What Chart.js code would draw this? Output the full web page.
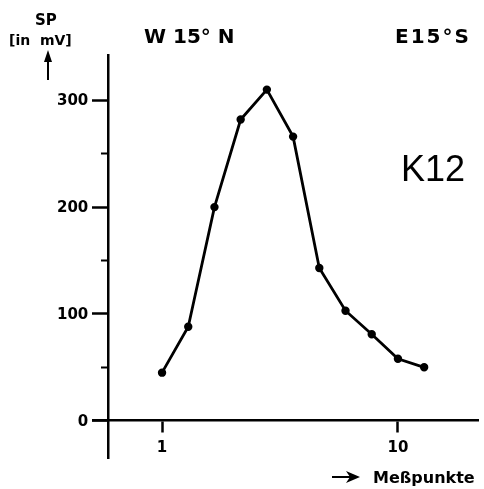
<!DOCTYPE html>
<html>
<head>
<meta charset="utf-8">
<script src="https://cdn.jsdelivr.net/npm/chart.js@4/dist/chart.umd.min.js"></script>
<style>
  html, body { margin: 0; padding: 0; background: #fff; }
  canvas { display: block; }
</style>
</head>
<body>
<canvas id="spChart" width="484" height="489"></canvas>
<script>
// Messpunkte (x) and SP values in mV (y)
var measurePoints = [1, 2, 3, 4, 5, 6, 7, 8, 9, 10, 11]
var spValues = [45, 88, 200, 282, 310, 266, 143, 103, 81, 58, 50]
var xTickValues = [1, 10]
var yMajorTicks = [0, 100, 200, 300]
var yMinorTicks = [50, 150, 250]

var FONT = 'DejaVu Sans'
var Y_AXIS_AT = -1.05

// free-standing labels of the figure (axis titles, orientation, profile name)
var figureLabels = function(chart) {
  var ctx = chart.ctx
  var xs = chart.scales.x
  var ys = chart.scales.y
  ctx.save()
  ctx.fillStyle = '#000'
  ctx.strokeStyle = '#000'

  // y tick labels, placed left of the long tick marks
  ctx.font = 'bold 15px "' + FONT + '"'
  ctx.textAlign = 'right'
  ctx.textBaseline = 'middle'
  var axisX = xs.getPixelForValue(Y_AXIS_AT)
  yMajorTicks.forEach(function(v) {
    ctx.fillText(String(v), axisX - 20, ys.getPixelForValue(v) + 1)
  })

  ctx.textBaseline = 'alphabetic'
  ctx.textAlign = 'left'
  ctx.font = 'bold 15px "' + FONT + '"'
  ctx.fillText('SP', 35, 25)
  ctx.font = 'bold 14px "' + FONT + '"'
  ctx.fillText('[in  mV]', 9, 45)

  // arrow up under the unit
  ctx.lineWidth = 2
  ctx.beginPath()
  ctx.moveTo(48, 80); ctx.lineTo(48, 56)
  ctx.stroke()
  ctx.beginPath()
  ctx.moveTo(48, 50); ctx.lineTo(44, 62); ctx.lineTo(52, 62); ctx.closePath()
  ctx.fill()

  ctx.font = 'bold 20px "' + FONT + '"'
  ctx.fillText('W 15° N', 144, 43)
  ctx.letterSpacing = '2px'
  ctx.fillText('E15°S', 395, 43)
  ctx.letterSpacing = '0px'

  ctx.font = '36px "Liberation Sans"'
  ctx.fillText('K12', 401, 181)

  // arrow before the x-axis title
  ctx.lineWidth = 2
  ctx.beginPath()
  ctx.moveTo(332, 477); ctx.lineTo(352, 477)
  ctx.stroke()
  ctx.beginPath()
  ctx.moveTo(360, 477); ctx.lineTo(346, 471); ctx.lineTo(350, 477); ctx.lineTo(346, 483); ctx.closePath()
  ctx.fill()

  ctx.font = 'bold 16px "' + FONT + '"'
  ctx.fillText('Meßpunkte', 373, 483)
  ctx.restore()
}

var chartConfig = {
  type: 'line',
  data: {
    datasets: [{
      data: measurePoints.map(function(x, i) { return {x: x, y: spValues[i]} }),
      borderColor: '#000',
      backgroundColor: '#000',
      borderWidth: 2.8,
      pointRadius: 2.8,
      pointHoverRadius: 2.8,
      tension: 0,
      fill: false
    }]
  },
  options: {
    responsive: false,
    animation: false,
    events: [],
    layout: { padding: { left: 93, right: 3, top: 55, bottom: 31 } },
    plugins: {
      legend: { display: false },
      tooltip: { enabled: false }
    },
    scales: {
      x: {
        type: 'linear',
        position: { y: 0 },
        min: -1.634,
        max: 13.07,
        afterBuildTicks: function(scale) {
          scale.ticks = xTickValues.map(function(v) { return {value: v} })
        },
        border: { display: true, color: '#000', width: 2.5 },
        grid: { drawOnChartArea: false, drawTicks: true, tickLength: 11, tickWidth: 2.5, tickColor: '#000' },
        ticks: {
          color: '#000',
          padding: 7,
          maxRotation: 0,
          font: { family: FONT, size: 15, weight: 'bold' }
        }
      },
      y: {
        type: 'linear',
        position: { x: Y_AXIS_AT },
        min: -34.9,
        max: 342.4,
        afterBuildTicks: function(scale) {
          scale.ticks = yMajorTicks.map(function(v) { return {value: v} })
        },
        border: { display: true, color: '#000', width: 2.5 },
        grid: { drawOnChartArea: false, drawTicks: true, tickLength: 15, tickWidth: 2.5, tickColor: '#000' },
        ticks: { callback: function() { return '' } }
      },
      yMinor: {
        type: 'linear',
        position: { x: Y_AXIS_AT },
        min: -34.9,
        max: 342.4,
        afterBuildTicks: function(scale) {
          scale.ticks = yMinorTicks.map(function(v) { return {value: v} })
        },
        border: { display: false },
        grid: { drawOnChartArea: false, drawTicks: true, tickLength: 7, tickWidth: 2, tickColor: '#000' },
        ticks: { callback: function() { return '' } }
      }
    }
  },
  plugins: [{ id: 'figureLabels', afterDraw: figureLabels }]
}

var ctx = document.getElementById('spChart')
var spChart = new Chart(ctx, chartConfig)
</script>
</body>
</html>
